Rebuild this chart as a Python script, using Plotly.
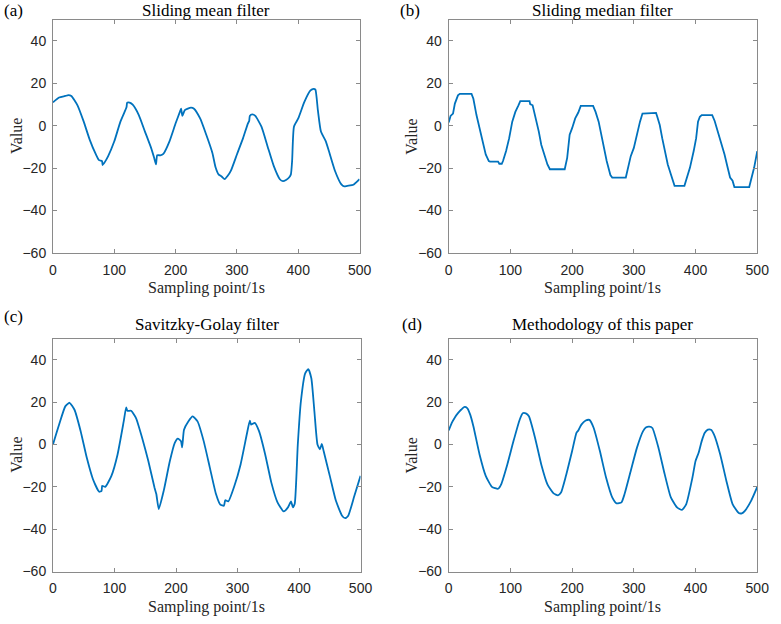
import plotly.graph_objects as go

W, H = 781, 624

# ---------------- data ----------------
xa = [0, 10, 20, 25, 30, 40, 50, 60, 70, 75, 80, 81, 85, 90, 100, 110, 118, 120, 121, 125, 130, 140, 150, 160, 165, 168,
      170, 175, 180, 190, 200, 208, 209, 211, 215, 225, 230, 240, 250, 260, 265, 270, 275, 280, 285, 290, 300, 310, 318,
      320, 321, 325, 330, 340, 350, 360, 370, 375, 380, 385, 388, 390, 393, 400, 410, 420, 425, 428, 432, 437, 445, 450,
      460, 470, 475, 480, 490, 500]
ya = [11, 13.3, 14, 14.4, 14, 9.6, 2, -6.7, -13.6, -16.3, -16.7, -18.6, -17, -14.4, -7.4, 1.9, 7.3, 8.8, 10.9, 10.9, 9.9,
      5, -2.8, -10.5, -15.2, -18.3, -14, -14, -13.3, -7.4, 1.1, 7.3, 8, 4.6, 7.3, 8.5, 8, 3.4, -4.3, -12.9, -19.5, -23,
      -24, -25.3, -23.7, -21.4, -13.6, -5.9, 1.1, 2.2, 4.6, 5.3, 4.6, -0.5, -9.8, -19, -25.3, -26.2, -25.7, -24.5, -23,
      -16.7, -0.5, 3.4, 11.2, 16.6, 17.4, 17, 7.3, -2.8, -7.4, -12, -21.4, -27.6, -28.7, -28.4, -27.9, -25.3]

xb = [0, 3, 7, 10, 15, 18, 37, 40, 45, 50, 55, 60, 65, 67, 80, 82, 86, 88, 93, 98, 103, 108, 113, 116, 131, 132, 136, 140,
      146, 150, 155, 160, 164, 188, 192, 196, 200, 205, 210, 214, 234, 238, 243, 247, 252, 256, 262, 265, 287, 290, 295,
      300, 305, 310, 314, 336, 338, 342, 346, 350, 355, 360, 366, 382, 386, 391, 397, 401, 404, 407, 410, 427, 431, 436,
      441, 447, 452, 456, 460, 463, 487, 490, 495, 500]
yb = [1.5, 4.6, 5.7, 10.4, 14.3, 15, 15, 12.7, 5, -1.2, -6.7, -13.6, -16.7, -17, -17, -18, -18, -16.7, -12, -5.9, 1.9, 6.5,
      9.6, 11.6, 11.6, 10.2, 9.6, 5, -2.8, -9, -13.6, -18.3, -20.6, -20.6, -15.2, -4.3, -1.2, 3.4, 6.2, 9.3, 9.3, 6.5, 1.9,
      -4.3, -12, -16.7, -23.3, -24.5, -24.5, -20.6, -14.4, -10.5, -3.6, 1.9, 5.7, 6, 4.2, 0.3, -5.9, -12, -18.3, -23, -28.4,
      -28.4, -24.5, -19.8, -12, -5.9, 1.9, 4.2, 5, 5, 2.2, -2.8, -7.4, -13.6, -19.8, -24.5, -26, -29, -29, -26, -19.8, -12]

xc = [0, 10, 20, 27, 35, 45, 55, 65, 75, 79, 80, 85, 95, 105, 115, 119, 121, 127, 135, 145, 155, 165, 168, 172, 180, 190,
      198, 203, 208, 210, 213, 220, 227, 235, 245, 255, 265, 272, 278, 280, 285, 295, 305, 315, 320, 322, 328, 335, 345,
      355, 365, 375, 382, 387, 390, 393, 398, 403, 410, 415, 420, 425, 430, 434, 437, 440, 450, 460, 470, 475, 480, 490, 500]
yc = [0, 9.4, 18, 19.7, 16.4, 6.3, -6.3, -16.4, -22.3, -21.9, -19.5, -20, -14.8, -4.7, 10.9, 17.5, 15.9, 15.9, 12.5, 3.1,
      -7.8, -20.3, -23.4, -30.5, -21.9, -7.8, 0.8, 2.8, 1.6, -1.3, 7, 10.9, 13.3, 10.9, 1.6, -10.9, -23.4, -28.4, -28.9,
      -26.3, -26.9, -19.5, -9.4, 4.7, 11.3, 9.4, 10.2, 6.3, -4.7, -18, -27.3, -31.6, -29.7, -26.9, -29.7, -28, 0, 20.3,
      33.6, 35.6, 31.3, 15.6, 0, -2.3, 0.3, -3.1, -14.8, -26.6, -33.6, -34.8, -33.6, -24.2, -14.8]

xd = [0, 5, 10, 15, 20, 25, 30, 35, 40, 50, 60, 70, 75, 80, 85, 95, 105, 115, 120, 125, 130, 140, 150, 160, 170, 177, 182,
      190, 200, 207, 210, 215, 222, 228, 235, 245, 255, 265, 272, 280, 285, 295, 305, 315, 320, 325, 330, 340, 350, 360,
      370, 378, 385, 395, 400, 405, 410, 415, 420, 425, 430, 440, 450, 460, 470, 475, 480, 490, 500]
yd = [6.6, 10.2, 12.8, 14.8, 16.4, 17.7, 17.2, 14, 8.6, -4.7, -14.8, -20, -20.6, -20.9, -18.8, -9.4, 1.6, 11.7, 14.8, 14.7,
      13.3, 3.1, -9.4, -18.8, -23.1, -24, -22.7, -14.8, -3.1, 5.5, 6.6, 9.4, 11.3, 11.6, 7.8, -3.1, -15.6, -25, -27.8,
      -27.3, -23.4, -12.5, -1.6, 6.3, 8.1, 8.4, 7.8, -1.6, -14, -25, -29.7, -30.9, -28.1, -15.6, -7.8, -3.9, 1.6, 5.5, 7,
      7, 4.7, -4.7, -17.2, -28.1, -32.3, -32.5, -31.3, -26.6, -20]

titles = ["Sliding mean filter", "Sliding median filter", "Savitzky-Golay filter", "Methodology of this paper"]
labels = ["(a)", "(b)", "(c)", "(d)"]
xticks = [0, 100, 200, 300, 400, 500]
yticks = [-60, -40, -20, 0, 20, 40]
xlab = "Sampling point/1s"
ylab = "Value"

series = [(xa, ya), (xb, yb), (xc, yc), (xd, yd)]
shapes_line = ["spline", "linear", "spline", "spline"]

# ---------------- layout (pixel boxes) ----------------
boxes = [(50, 363, 20, 256), (454, 769, 20, 256), (50, 364, 343, 579), (454, 769, 343, 579)]
label_pos = [(10, 0), (415, 0), (10, 310), (417, 318)]
title_top = [0, 0, 318, 318]
ylab_x = [12, 12 + 404, 12, 12 + 404]

def px(x):
    return x / W

def py(y):
    return 1 - y / H

fig = go.Figure()
serif = "Liberation Serif, Times New Roman, serif"
sans = "Liberation Sans, Arial, sans-serif"
axcol = "#8a8a8a"
txtcol = "#262626"

annotations = []
for i, ((x, y), (l, r, t, b)) in enumerate(zip(series, boxes)):
    n = "" if i == 0 else str(i + 1)
    line = dict(color="#0072BD", width=1.8, shape=shapes_line[i])
    if shapes_line[i] == "spline":
        line["smoothing"] = 0.5
    fig.add_trace(go.Scatter(x=x, y=y, mode="lines", line=line,
                             xaxis="x" + n, yaxis="y" + n, showlegend=False))
    axx = dict(domain=[px(l), px(r)], anchor="y" + n, range=[0, 500], tickvals=xticks,
               ticks="inside", ticklen=4, tickcolor=axcol, showline=True, linecolor=axcol, linewidth=1,
               mirror="ticks", showgrid=False, zeroline=False,
               tickfont=dict(family=sans, size=14, color=txtcol), ticklabelstandoff=4)
    axy = dict(domain=[py(b), py(t)], anchor="x" + n, range=[-60, 50], tickvals=yticks,
               ticks="inside", ticklen=4, tickcolor=axcol, showline=True, linecolor=axcol, linewidth=1,
               mirror="ticks", showgrid=False, zeroline=False,
               tickfont=dict(family=sans, size=14, color=txtcol), ticklabelstandoff=3)
    fig.update_layout({"xaxis" + n: axx, "yaxis" + n: axy})
    cx = (l + r) / 2
    annotations.append(dict(x=px(cx), y=py(title_top[i]), xref="paper", yref="paper", text=titles[i],
                            showarrow=False, font=dict(family=serif, size=17, color="black"),
                            xanchor="center", yanchor="top", borderpad=0))
    annotations.append(dict(x=px(label_pos[i][0]), y=py(label_pos[i][1]), xref="paper", yref="paper",
                            text=labels[i], showarrow=False, font=dict(family=serif, size=17, color="black"),
                            xanchor="center", yanchor="top", borderpad=0))
    annotations.append(dict(x=px(cx), y=py(b + 36), xref="paper", yref="paper", text=xlab,
                            showarrow=False, font=dict(family=serif, size=16, color=txtcol),
                            xanchor="center", yanchor="middle"))
    annotations.append(dict(x=px(ylab_x[i]), y=py((t + b) / 2), xref="paper", yref="paper", text=ylab,
                            showarrow=False, font=dict(family=serif, size=16, color=txtcol), textangle=-90,
                            xanchor="center", yanchor="middle"))

fig.update_layout(width=W, height=H, margin=dict(l=0, r=0, t=0, b=0),
                  paper_bgcolor="white", plot_bgcolor="white", annotations=annotations)

fig.write_html("out.html")
